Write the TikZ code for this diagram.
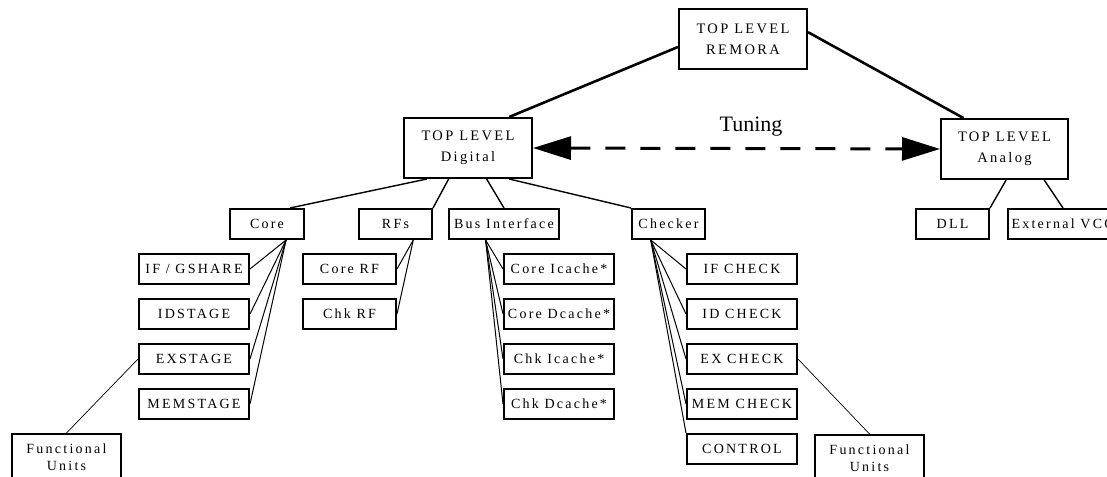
\documentclass[tikz,border=0pt]{standalone}
\usepackage{fontspec}
\setmainfont{Liberation Serif}
\newfontfamily\boxfont[LetterSpace=16]{Liberation Serif}
\usetikzlibrary{arrows.meta}

\begin{document}
\begin{tikzpicture}[x=1pt,y=-1pt,
    blk/.style={draw,line width=2pt,inner sep=0pt,align=center,font=\boxfont\fontsize{14}{17}\selectfont},
    top/.style={blk,minimum width=128pt,minimum height=60pt,font=\boxfont\fontsize{14.5}{21}\selectfont},
    sub/.style={blk,minimum height=30pt},
    leaf/.style={blk,minimum width=110pt,minimum height=30pt},
    link/.style={line width=1pt},
    main/.style={line width=2.6pt}]

    \useasboundingbox (0,0) rectangle (1107,476);
    \clip (0,0) rectangle (1107,476);

    % The top levels
	\node [top] at (743,39) (remora) {TOP LEVEL\\REMORA};
	\node [top] at (468,148) (digital) {TOP LEVEL\\Digital};
	\node [top,minimum width=127pt] at (1004.5,149) (analog) {TOP LEVEL\\Analog};
	\node [font=\fontsize{22}{24}\selectfont] at (751,127) (tuning) {Tuning};

	% Analog side
	\node [sub,minimum width=73pt] at (952.5,224) (dll) {DLL};
	\node [sub,minimum width=110pt,anchor=west] at (1007,224) (vco) {External VCO};

	% Digital side
	\node [sub,minimum width=74pt] at (267,224) (core) {Core};
	\node [sub,minimum width=73pt] at (395.5,224) (rfs) {RFs};
	\node [sub,minimum width=110pt] at (504,224) (bus) {Bus Interface};
	\node [sub,minimum width=73pt] at (668.5,224) (checker) {Checker};

	% Core stages
	\node [leaf] at (194,269) (ifg) {IF / GSHARE};
	\node [leaf] at (194,314) (ids) {IDSTAGE};
	\node [leaf] at (194,359) (exs) {EXSTAGE};
	\node [leaf] at (194,404) (mems) {MEMSTAGE};
	\node [blk,minimum width=109pt,minimum height=46pt] at (66.5,457) (fucore) {Functional\\Units};

	% Register files
	\node [leaf,minimum width=93pt] at (349.5,269) (corerf) {Core RF};
	\node [leaf,minimum width=93pt] at (349.5,314) (chkrf) {Chk RF};

	% Caches
	\node [leaf] at (559,269) (cic) {Core Icache*};
	\node [leaf] at (559,314) (cdc) {Core Dcache*};
	\node [leaf] at (559,359) (kic) {Chk Icache*};
	\node [leaf] at (559,404) (kdc) {Chk Dcache*};

	% Checker units
	\node [leaf] at (742,269) (ifc) {IF CHECK};
	\node [leaf] at (742,314) (idc) {ID CHECK};
	\node [leaf] at (742,359) (exc) {EX CHECK};
	\node [leaf] at (742,404) (memc) {MEM CHECK};
	\node [leaf] at (742,449) (ctrl) {CONTROL};
	\node [blk,minimum width=109pt,minimum height=46pt] at (869.5,458) (fuchk) {Functional\\Units};

	% Graph edges
	\path[main]
	(remora.187) edge (digital.37)
	(remora.6) edge (analog.143.5);

	\draw[line width=3pt,dash pattern=on 20pt off 15pt,
	      {Triangle[length=38pt,width=23pt]}-{Triangle[length=38pt,width=23pt]}]
	(digital.east) -- (analog.west);

	\path[line width=1.4pt]
	(digital.-143) edge (core.35.5)
	(digital.-122) edge (rfs.north east)
	(digital.-59) edge (bus.north)
	(digital.-37) edge (checker.north west)
	(analog.-87) edge (dll.north east)
	(analog.-38) edge (vco.north);

	\path[link]
	(core.-40) edge (ifg.east)
	(core.-40) edge (ids.east)
	(core.-40) edge (exs.east)
	(core.-40) edge (mems.east)
	(rfs.-42) edge (corerf.east)
	(rfs.-42) edge (chkrf.east)
	(bus.-139) edge (cic.west)
	(bus.-139) edge (cdc.west)
	(bus.-139) edge (kic.west)
	(bus.-139) edge (kdc.west)
	(checker.-138) edge (ifc.west)
	(checker.-138) edge (idc.west)
	(checker.-138) edge (exc.west)
	(checker.-138) edge (memc.west)
	(checker.-138) edge (ctrl.north west);

	\path[line width=0.7pt]
	(exs.west) edge (fucore.north)
	(exc.east) edge (fuchk.north);

\end{tikzpicture}
\end{document}
